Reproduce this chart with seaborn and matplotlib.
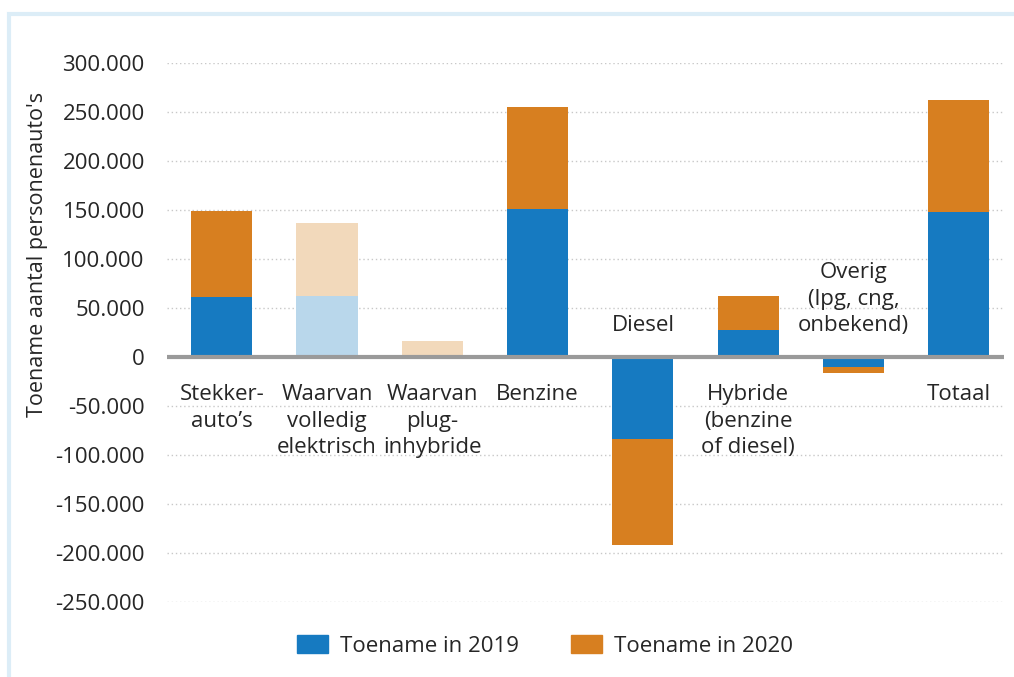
import pandas as pd
import matplotlib.pyplot as plt
import seaborn as sns
from matplotlib.patches import Rectangle, Patch

# waarden in aantallen personenauto's
categories = ["Stekker-\nauto’s", "Waarvan\nvolledig\nelektrisch", "Waarvan\nplug-\ninhybride",
              "Benzine", "Diesel", "Hybride\n(benzine\nof diesel)",
              "Overig\n(lpg, cng,\nonbekend)", "Totaal"]
toename_2019 = [61000, 62000, 1500, 151000, -84000, 28000, -10000, 148000]
toename_2020 = [88000, 75000, 14500, 104000, -108000, 34000, -6000, 114000]
licht = [False, True, True, False, False, False, False, False]
yticks = [300000, 250000, 200000, 150000, 100000, 50000, 0,
          -50000, -100000, -150000, -200000, -250000]

blauw, oranje = "#167ac1", "#d77f20"
blauw_licht, oranje_licht = "#b9d7eb", "#f2d9bb"

df = pd.DataFrame({"cat": categories, "y2019": toename_2019,
                   "y2020": toename_2020, "licht": licht})
df["totaal"] = df["y2019"] + df["y2020"]

sns.set_style("white")
plt.rcParams["font.family"] = ["Open Sans", "DejaVu Sans"]
fs = 16

fig = plt.figure(figsize=(10.14, 6.77), dpi=100)
ax = fig.add_axes([167 / 1014, 1 - 602 / 677, (1004 - 167) / 1014, (602 - 63) / 677])

kleur19 = [blauw_licht if l else blauw for l in df["licht"]]
kleur20 = [oranje_licht if l else oranje for l in df["licht"]]

# gestapeld: eerst totaal (oranje), daarna 2019 (blauw) eroverheen
sns.barplot(x="cat", y="totaal", data=df, palette=kleur20, hue="cat",
            legend=False, width=0.58, ax=ax, saturation=1, linewidth=0)
sns.barplot(x="cat", y="y2019", data=df, palette=kleur19, hue="cat",
            legend=False, width=0.58, ax=ax, saturation=1, linewidth=0)

ax.set_ylim(-250000, 300000)
ax.set_xlim(-0.52, 7.43)
ax.set_yticks(yticks)
ax.set_yticklabels([f"{v:,}".replace(",", ".") for v in yticks], fontsize=fs)
ax.set_xticks([])
ax.set_xlabel("")
ax.set_ylabel("")
ax.tick_params(axis="y", length=0, pad=16)
for s in ax.spines.values():
    s.set_visible(False)
for v in yticks:
    if v != 0:
        ax.axhline(v, color="#c8c8c8", lw=1, ls=(0, (1, 2)), zorder=0)
ax.axhline(0, color="#9a9a9a", lw=3, zorder=3)

# categorielabels naast de nullijn
for i, row in df.iterrows():
    if row["totaal"] >= 0:
        ax.annotate(row["cat"], (i, 0), xytext=(0, -19.5), textcoords="offset points",
                    ha="center", va="top", fontsize=fs, linespacing=1.35)
    else:
        ax.annotate(row["cat"], (i, 0), xytext=(0, 15), textcoords="offset points",
                    ha="center", va="bottom", fontsize=fs, linespacing=1.35)

fig.text(38 / 1014, 1 - 254 / 677, "Toename aantal personenauto's", rotation=90,
         ha="center", va="center", fontsize=15.5)

handles = [Patch(color=blauw, label="Toename in 2019"),
           Patch(color=oranje, label="Toename in 2020")]
fig.legend(handles=handles, loc="center", bbox_to_anchor=(545 / 1014, 1 - 646 / 677),
           ncol=2, frameon=False, fontsize=fs, handlelength=1.4, handleheight=0.85,
           columnspacing=2.3, handletextpad=0.55)

# lichtblauwe rand boven en links
fig.patches.append(Rectangle((9 / 1014, -0.1), 1.2, 1 - 14 / 677 + 0.1,
                             transform=fig.transFigure, fill=False,
                             edgecolor="#dcedf7", lw=3))

fig.savefig("out.png", dpi=100)
